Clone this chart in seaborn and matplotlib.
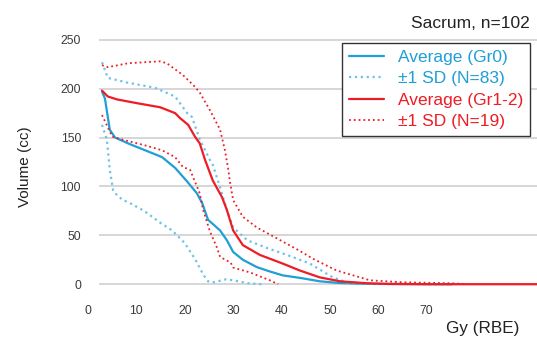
import matplotlib
matplotlib.use("Agg")
import matplotlib.pyplot as plt
import seaborn as sns
import pandas as pd

# Dose-volume histogram for the sacrum, grouped by toxicity grade
gr0_avg_dose = [2.9, 3.5, 4.5, 5.6, 8.3, 11.8, 15.3, 18.0, 20.5, 22.5, 23.6, 24.8,
                27.3, 28.7, 30.0, 32.0, 34.9, 37.6, 40.3, 43.8, 47.9, 52.1, 56.0,
                60.0, 65.0, 70.0, 75.2]
gr0_avg_vol = [197, 190, 158, 150, 144, 137, 130, 119, 105, 93, 83, 66,
               55, 45, 33, 25, 17.5, 13, 9, 6.5, 3, 1.2, 0.6,
               0.3, 0.2, 0.1, 0]

gr0_hi_dose = [2.9, 4.1, 8.3, 13.8, 18.0, 20.5, 21.5, 23.1, 25.2, 25.8, 27.3,
               28.7, 30.0, 32.9, 37.0, 41.1, 43.8, 45.9, 47.9, 50.6, 53.5, 58.0,
               65.0, 75.2]
gr0_hi_vol = [227, 211, 206, 201, 192, 175, 171, 148, 127, 122, 99,
              76, 58, 45, 37, 30, 25, 21, 15, 7, 2, 0.5,
              0.2, 0]

gr0_lo_dose = [2.9, 3.9, 4.5, 5.2, 5.6, 7.2, 8.3, 11.6, 14.9, 17.4, 20.0, 22.1,
               23.8, 24.8, 26.0, 28.5, 30.0, 33.0, 36.0]
gr0_lo_vol = [163, 148, 117, 96, 93, 86, 84, 75, 63, 55, 42, 26,
              10, 3, 2, 5, 4, 1, 0]

gr12_avg_dose = [2.9, 4.1, 6.0, 10.3, 14.9, 18.0, 19.0, 20.7, 22.1, 23.1, 24.2,
                 25.8, 27.7, 28.7, 30.0, 32.0, 35.5, 40.3, 43.8, 47.9, 52.1,
                 57.6, 62.0, 70.0, 92.8]
gr12_avg_vol = [198, 192, 189, 185, 181, 175, 170, 163, 151, 144, 127,
                106, 89, 76, 55, 40, 30, 21, 14, 7, 3,
                1, 0.3, 0, 0]

gr12_hi_dose = [2.9, 4.1, 8.3, 14.9, 16.3, 19.6, 22.1, 23.1, 25.2, 27.3, 28.3,
                29.0, 29.3, 30.0, 32.0, 34.9, 39.0, 43.8, 46.5, 51.4, 58.3,
                65.0, 75.0, 78.0]
gr12_hi_vol = [224, 222, 226, 228, 226, 214, 202, 196, 178, 158, 137,
               117, 106, 86, 69, 58, 47, 34, 26, 14, 4,
               2, 1, 0]

gr12_lo_dose = [2.9, 5.0, 7.0, 11.8, 15.3, 18.0, 19.6, 21.1, 23.1, 23.8, 25.2,
                26.6, 27.3, 29.5, 30.0, 33.5, 37.6, 39.3]
gr12_lo_vol = [173, 151, 148, 142, 137, 130, 120, 117, 93, 76, 54,
               38, 28, 22, 17, 12, 4, 0]

x_ticks = [0, 10, 20, 30, 40, 50, 60, 70]
y_ticks = [0, 50, 100, 150, 200, 250]

BLUE = "#1f9fd6"
BLUE_LIGHT = "#6cc3e8"
RED = "#ee1c25"
FONT = "Liberation Sans"

sns.set_theme(style="white")
plt.rcParams["font.family"] = [FONT, "DejaVu Sans"]

fig = plt.figure(figsize=(5.37, 3.38), dpi=100)
ax = fig.add_axes([88 / 537, 44 / 338, 449 / 537, 264 / 338])

series = [
    (gr0_avg_dose, gr0_avg_vol, BLUE, "-", 1.6, "Average (Gr0)"),
    (gr0_hi_dose, gr0_hi_vol, BLUE_LIGHT, ":", 1.6, "\u00b11 SD (N=83)"),
    (gr12_avg_dose, gr12_avg_vol, RED, "-", 1.6, "Average (Gr1-2)"),
    (gr12_hi_dose, gr12_hi_vol, RED, ":", 1.3, "\u00b11 SD (N=19)"),
    (gr0_lo_dose, gr0_lo_vol, BLUE_LIGHT, ":", 1.6, None),
    (gr12_lo_dose, gr12_lo_vol, RED, ":", 1.3, None),
]

handles = []
for dose, vol, color, ls, lw, label in series:
    df = pd.DataFrame({"dose": dose, "vol": vol})
    sns.lineplot(data=df, x="dose", y="vol", ax=ax, color=color,
                 linestyle=ls, linewidth=lw, label=label, legend=False)
    if label is not None:
        handles.append((ax.lines[-1], label))

ax.set_xlim(0, 92.8)
ax.set_ylim(-10, 260)
ax.hlines(y_ticks, 2.3, 92.8, color="#cfcfcf", linewidth=1.2, zorder=0)

ax.set_xticks(x_ticks)
ax.set_yticks(y_ticks)
ax.set_xticklabels([str(v) for v in x_ticks], fontsize=8.8, color="#3a3a3a")
ax.set_yticklabels([str(v) for v in y_ticks], fontsize=8.8, color="#3a3a3a")
ax.tick_params(axis="both", length=0)
ax.tick_params(axis="x", pad=8)
ax.tick_params(axis="y", pad=5)
ax.set_xlabel("")
ax.set_ylabel("")
for sp in ax.spines.values():
    sp.set_visible(False)

fig.text(25 / 537, 1 - 167 / 338, "Volume (cc)", rotation=90, ha="center",
         va="center", fontsize=11, color="#222222")
fig.text(483 / 537, 1 - 329 / 338, "Gy (RBE)", ha="center", va="center",
         fontsize=12.3, color="#222222")
fig.text(530 / 537, 1 - 23 / 338, "Sacrum, n=102", ha="right", va="center",
         fontsize=12.5, color="#222222")

leg = ax.legend([h for h, _ in handles], [l for _, l in handles],
                loc="upper right", bbox_to_anchor=(530 / 537, 1 - 43 / 338),
                bbox_transform=fig.transFigure, borderaxespad=0,
                fontsize=12.5, frameon=True, fancybox=False, framealpha=1,
                edgecolor="#333333", handlelength=2.0, handletextpad=0.8,
                labelspacing=0.36, borderpad=0.4)
leg.get_frame().set_linewidth(1.0)
for txt, color in zip(leg.get_texts(), [BLUE, BLUE, RED, RED]):
    txt.set_color(color)

fig.savefig("out.png", dpi=100)
